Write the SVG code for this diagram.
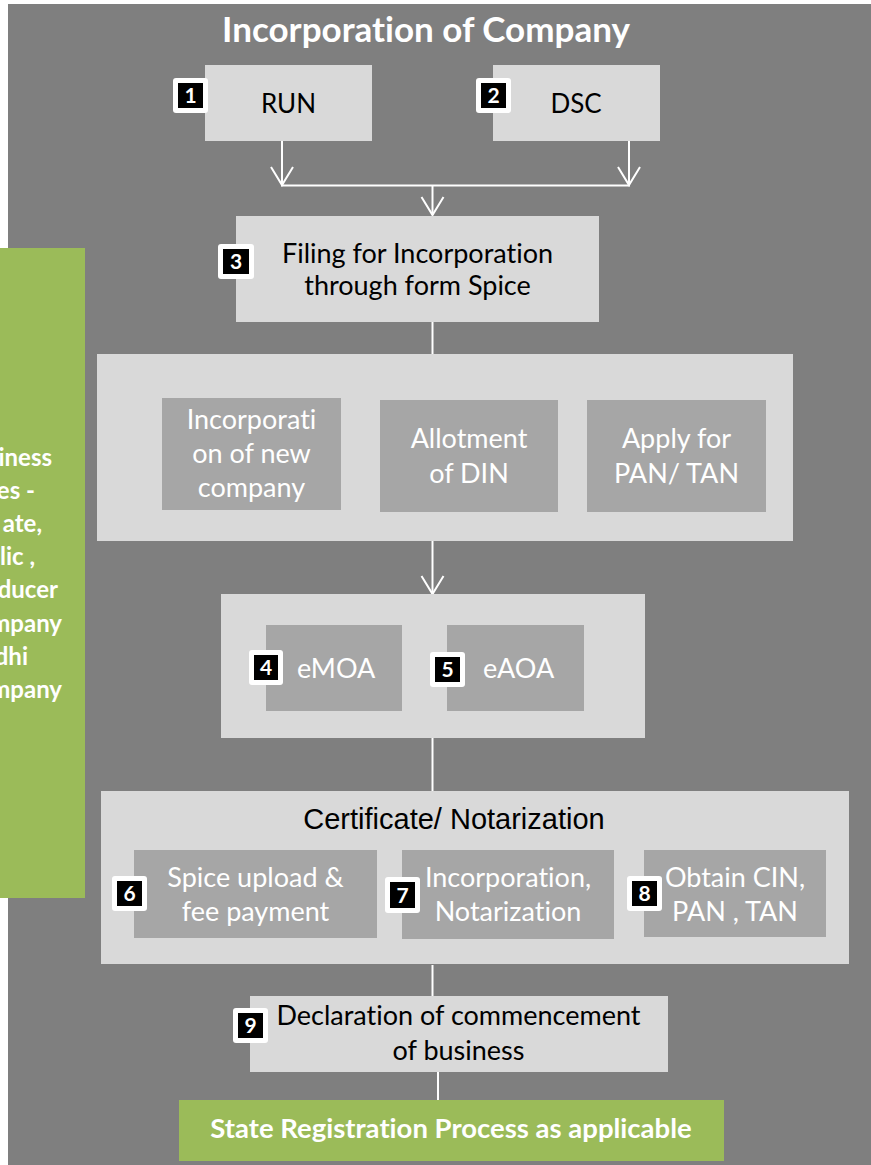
<svg xmlns="http://www.w3.org/2000/svg" width="871" height="1165" viewBox="0 0 871 1165">
<style>
.light{fill:#d9d9d9}
.mid{fill:#a6a6a6}
.green{fill:#9bbb59}
text{font-variant-ligatures:none}
.t{font-family:Lato,"Open Sans",sans-serif;font-size:27px;text-anchor:middle}
.dark{fill:#000}
.wt{fill:#fff}
.b{font-weight:bold}
.bw{fill:#fff}
.bk{fill:#000}
.num{font-family:Lato,"Open Sans",sans-serif;font-size:21px;font-weight:bold;fill:#fff;text-anchor:middle}
.con{stroke:#fff;stroke-width:2;fill:none}
</style>
<rect x="0" y="0" width="871" height="1165" fill="#fff"/>
<rect x="8" y="4" width="863" height="1161" fill="#7f7f7f"/>
<g id="title"><text x="426" y="42" class="t b wt" style="font-size:35px">Incorporation of Company</text></g>
<g id="side">
<rect x="0" y="248" width="85" height="650" class="green"/>
<g style="font-family:Lato,'Open Sans',sans-serif;font-size:24px;font-weight:bold;fill:#fff;text-anchor:end">
<text x="52" y="466">iness</text>
<text x="35" y="499">es -</text>
<text x="42" y="532">ate,</text>
<text x="35" y="565">lic ,</text>
<text x="58" y="598">ducer</text>
<text x="62" y="632">mpany</text>
<text x="28" y="665">dhi</text>
<text x="62" y="698">mpany</text>
</g>
</g>
<g id="connectors" class="con">
<line x1="282" y1="141" x2="282" y2="185.5"/>
<polyline points="271,167 282,185 293,167"/>
<line x1="629" y1="141" x2="629" y2="185.5"/>
<polyline points="618,167 629,185 640,167"/>
<line x1="281" y1="185.5" x2="630" y2="185.5"/>
<line x1="432.5" y1="185.5" x2="432.5" y2="215"/>
<polyline points="421.5,197 432.5,215 443.5,197"/>
<line x1="432.5" y1="322" x2="432.5" y2="354"/>
<line x1="432.5" y1="541" x2="432.5" y2="594"/>
<polyline points="421.5,576 432.5,594 443.5,576"/>
<line x1="432.5" y1="738" x2="432.5" y2="791"/>
<line x1="432.5" y1="965" x2="432.5" y2="996"/>
<line x1="438" y1="1072" x2="438" y2="1100"/>
</g>
<g id="run">
<rect x="205" y="65" width="167" height="76" class="light"/>
<text x="288.5" y="113" class="t dark" style="font-size:26px">RUN</text>
<rect x="173" y="78" width="35" height="35" rx="3" class="bw"/><rect x="178" y="83" width="25" height="25" class="bk"/><text x="190.5" y="103" class="num">1</text>
</g>
<g id="dsc">
<rect x="493" y="65" width="167" height="76" class="light"/>
<text x="576" y="113" class="t dark" style="font-size:26px">DSC</text>
<rect x="476" y="78" width="35" height="35" rx="3" class="bw"/><rect x="481" y="83" width="25" height="25" class="bk"/><text x="493.5" y="103" class="num">2</text>
</g>
<g id="filing">
<rect x="236" y="216" width="363" height="106" class="light"/>
<text x="417.5" y="263" class="t dark">Filing for Incorporation</text>
<text x="417.5" y="295" class="t dark">through form Spice</text>
<rect x="218" y="244" width="36" height="35" rx="3" class="bw"/><rect x="223" y="249" width="26" height="25" class="bk"/><text x="236" y="269" class="num">3</text>
</g>
<g id="panel1">
<rect x="97" y="354" width="696" height="187" class="light"/>
</g>
<g id="newco">
<rect x="162" y="398" width="179" height="112" class="mid"/>
<text x="251.5" y="429" class="t wt">Incorporati</text>
<text x="251.5" y="463" class="t wt">on of new</text>
<text x="251.5" y="497" class="t wt">company</text>
</g>
<g id="din">
<rect x="380" y="400" width="178" height="112" class="mid"/>
<text x="469" y="448" class="t wt">Allotment</text>
<text x="469" y="483" class="t wt">of DIN</text>
</g>
<g id="pantan">
<rect x="587" y="400" width="179" height="112" class="mid"/>
<text x="676.5" y="448" class="t wt">Apply for</text>
<text x="676.5" y="483" class="t wt">PAN/ TAN</text>
</g>
<g id="panel2">
<rect x="221" y="594" width="424" height="144" class="light"/>
</g>
<g id="emoa">
<rect x="266" y="625" width="136" height="86" class="mid"/>
<text x="297" y="678" class="t wt" style="text-anchor:start">eMOA</text>
<rect x="249" y="650" width="34" height="35" rx="3" class="bw"/><rect x="254" y="655" width="24" height="25" class="bk"/><text x="266" y="675" class="num">4</text>
</g>
<g id="eaoa">
<rect x="447" y="625" width="137" height="86" class="mid"/>
<text x="483" y="678" class="t wt" style="text-anchor:start">eAOA</text>
<rect x="430" y="652" width="35" height="35" rx="3" class="bw"/><rect x="435" y="657" width="25" height="25" class="bk"/><text x="447.5" y="677" class="num">5</text>
</g>
<g id="panel3">
<rect x="101" y="791" width="748" height="173" class="light"/>
<text x="454" y="829" style="font-family:'Liberation Sans',Arial,sans-serif;font-size:29px;text-anchor:middle;fill:#000">Certificate/ Notarization</text>
</g>
<g id="spice">
<rect x="134" y="850" width="243" height="88" class="mid"/>
<text x="255.5" y="887" class="t wt">Spice upload &amp;</text>
<text x="255.5" y="921" class="t wt">fee payment</text>
<rect x="112" y="876" width="35" height="35" rx="3" class="bw"/><rect x="117" y="881" width="25" height="25" class="bk"/><text x="129.5" y="901" class="num">6</text>
</g>
<g id="notar">
<rect x="402" y="850" width="212" height="89" class="mid"/>
<text x="508" y="887" class="t wt">Incorporation,</text>
<text x="508" y="921" class="t wt">Notarization</text>
<rect x="385" y="877" width="35" height="36" rx="3" class="bw"/><rect x="390" y="882" width="25" height="26" class="bk"/><text x="402.5" y="903" class="num">7</text>
</g>
<g id="cin">
<rect x="644" y="850" width="182" height="87" class="mid"/>
<text x="735" y="887" class="t wt">Obtain CIN,</text>
<text x="735" y="921" class="t wt">PAN , TAN</text>
<rect x="627" y="876" width="35" height="35" rx="3" class="bw"/><rect x="632" y="881" width="25" height="25" class="bk"/><text x="644.5" y="901" class="num">8</text>
</g>
<g id="declaration">
<rect x="250" y="996" width="418" height="76" class="light"/>
<text x="458.5" y="1025" class="t dark">Declaration of commencement</text>
<text x="458.5" y="1060" class="t dark">of business</text>
<rect x="233" y="1008" width="35" height="35" rx="3" class="bw"/><rect x="238" y="1013" width="25" height="25" class="bk"/><text x="250.5" y="1033" class="num">9</text>
</g>
<g id="state">
<rect x="179" y="1100" width="545" height="61" class="green"/>
<text x="451" y="1138" class="t b wt" style="font-size:27.5px">State Registration Process as applicable</text>
</g>
</svg>
